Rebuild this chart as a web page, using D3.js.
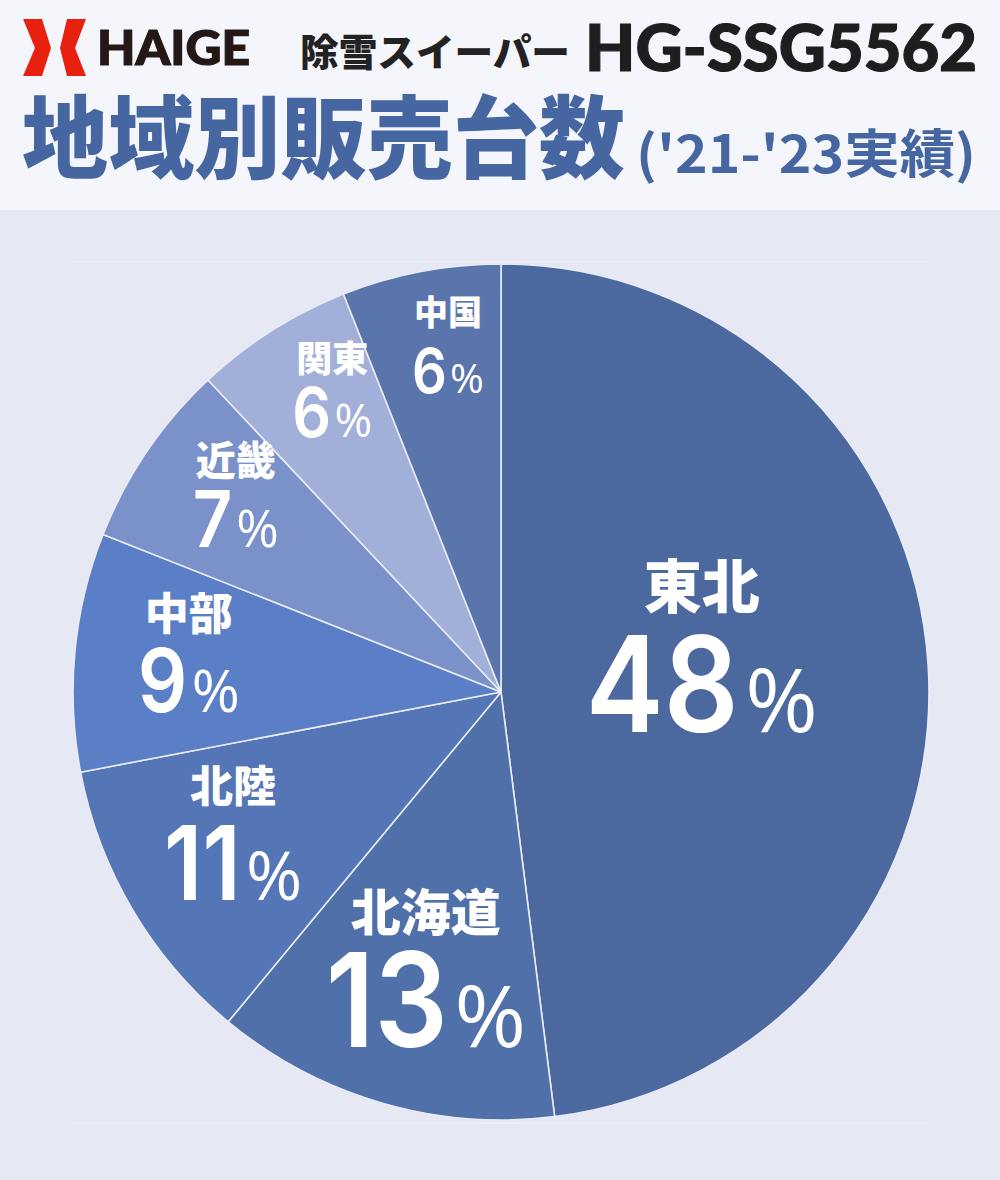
<!DOCTYPE html>
<html><head><meta charset="utf-8">
<script src="https://cdn.jsdelivr.net/npm/d3@7"></script>
<style>
html,body{margin:0;padding:0;background:#f5f6fb;}
svg{display:block;}
</style></head>
<body>
<svg id="chart" width="1000" height="1180"></svg>
<script>
// ---- data ----
const regions = ["東北","北海道","北陸","中部","近畿","関東","中国"];
const shares  = [48, 13, 11, 9, 7, 6, 6];
const brand = "HAIGE";
const product = "除雪スイーパー";
const model = "HG-SSG5562";
const title = "地域別販売台数";
const subtitle = "('21-'23実績)";

// ---- styling / layout config ----
const colors     = ["#4b689f","#5070aa","#5476b6","#5b7fc6","#7a91ca","#a2b0d9","#5a75ab"];
const labelR     = [0.472, 0.716, 0.728, 0.731, 0.75, 0.779, 0.788];
const labelShift = [-2.65, -2.0, -0.1, -1.55, 0.1, 2.0, 1.76]; // degrees
const nameSize   = [58, 50, 43, 44, 40, 36, 34];
const pctSize    = [133, 131, 103, 88, 78, 69, 62];
const lineGap    = [124, 116, 98, 82, 72, 65, 68];
const condense   = 0.88;

const W = 1000, H = 1180;
const svg = d3.select("#chart");

// backgrounds
svg.append("rect").attr("x",0).attr("y",0).attr("width",W).attr("height",210).attr("fill","#f5f6fb");
svg.append("rect").attr("x",0).attr("y",210).attr("width",W).attr("height",H-210).attr("fill","#e6e9f4");

// faint frame lines
[262, 1123].forEach(y=>{
  svg.append("line").attr("x1",72).attr("x2",930).attr("y1",y).attr("y2",y)
    .attr("stroke","#eef0f8").attr("stroke-width",1.2);
});

// ---- header ----
const logo = svg.append("g").attr("fill","#e8200f");
logo.append("path").attr("d","M23,19 L42,19 L51,48 L42,76 L23,76 L35,48 Z");
logo.append("path").attr("d","M86,19 L67,19 L60,48 L67,76 L86,76 L75,48 Z");

svg.append("text").attr("x",97).attr("y",65).text(brand)
  .attr("font-family","Lato, 'DejaVu Sans', sans-serif").attr("font-weight",900)
  .attr("font-size",48).attr("fill","#231815").attr("stroke","#231815").attr("stroke-width",1.2)
  .attr("textLength",153).attr("lengthAdjust","spacingAndGlyphs");

svg.append("text").attr("x",300).attr("y",66).text(product)
  .attr("font-family","'Noto Sans CJK JP', sans-serif").attr("font-weight",900)
  .attr("font-size",38).attr("fill","#222222")
  .attr("textLength",270).attr("lengthAdjust","spacingAndGlyphs");

svg.append("text").attr("x",585).attr("y",71).text(model)
  .attr("font-family","Lato, 'DejaVu Sans', sans-serif").attr("font-weight",900)
  .attr("font-size",64).attr("fill","#1e1e1e").attr("stroke","#1e1e1e").attr("stroke-width",1.2)
  .attr("textLength",392).attr("lengthAdjust","spacingAndGlyphs");

svg.append("text").attr("x",22).attr("y",171).text(title)
  .attr("font-family","'Noto Sans CJK JP', sans-serif").attr("font-weight",900)
  .attr("font-size",90).attr("fill","#4566a0")
  .attr("textLength",603).attr("lengthAdjust","spacingAndGlyphs");

svg.append("text").attr("x",636).attr("y",173).text(subtitle)
  .attr("font-family","'Noto Sans CJK JP', sans-serif").attr("font-weight",700)
  .attr("font-size",52).attr("fill","#4566a0")
  .attr("textLength",340).attr("lengthAdjust","spacingAndGlyphs");

// ---- pie ----
const cx = 501, cy = 692, R = 428;
const g = svg.append("g").attr("transform",`translate(${cx},${cy})`);
const data = regions.map((r,i)=>({name:r, value:shares[i], i}));
const pie = d3.pie().sort(null).value(d=>d.value).startAngle(0).endAngle(2*Math.PI);
const arcs = pie(data);
const arc = d3.arc().innerRadius(0).outerRadius(R);

g.selectAll("path.slice").data(arcs).join("path")
  .attr("class","slice")
  .attr("d",arc)
  .attr("fill",d=>colors[d.data.i])
  .attr("stroke","#e9ecf6").attr("stroke-width",1.6).attr("stroke-linejoin","round");

// labels
arcs.forEach(d=>{
  const i = d.data.i;
  const mid = (d.startAngle + d.endAngle)/2 + labelShift[i]*Math.PI/180;
  const r = R*labelR[i];
  const x = r*Math.sin(mid), y = -r*Math.cos(mid);
  const gap = lineGap[i];
  g.append("text").attr("x",x).attr("y",y-gap/2).attr("text-anchor","middle")
    .attr("font-family","'Noto Sans CJK JP', sans-serif").attr("font-weight",900)
    .attr("font-size",nameSize[i]).attr("fill","#ffffff").text(d.data.name);

  const by = y + gap/2;
  const num = g.append("text").attr("text-anchor","start").attr("fill","#ffffff")
    .attr("font-family","Inter, Roboto, sans-serif")
    .attr("font-size",pctSize[i]).attr("font-weight",600).text(d.data.value);
  const pct = g.append("text").attr("text-anchor","start").attr("fill","#ffffff")
    .attr("font-family","'Open Sans', sans-serif")
    .attr("font-size",pctSize[i]*0.66).attr("font-weight",400).text("%");
  const nW = num.node().getComputedTextLength()*condense;
  const pW = pct.node().getComputedTextLength();
  const sp = pctSize[i]*0.05;
  const x0 = x - (nW + sp + pW)/2;
  num.attr("transform",`translate(${x0},${by}) scale(${condense},1)`);
  pct.attr("x", x0 + nW + sp).attr("y", by);
});
</script>
</body></html>
